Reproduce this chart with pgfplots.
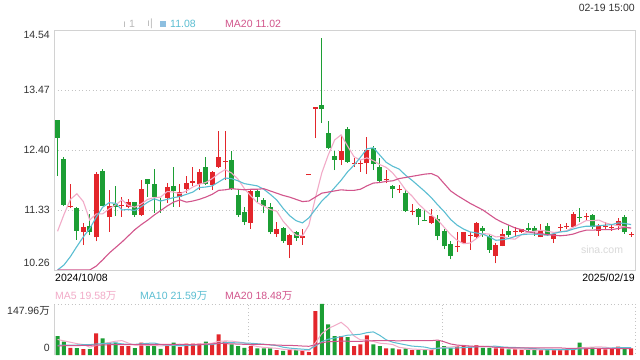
\documentclass[border=0pt]{standalone}
\usepackage{pgfplots}
\pgfplotsset{compat=1.18}
\usepackage{pgfplotstable}
\usepackage{fontspec}
\setmainfont{Liberation Sans}
\newfontfamily\cjk{Noto Sans CJK SC}

\definecolor{cRed}{HTML}{E3262B}
\definecolor{cGreen}{HTML}{1C9E34}
\definecolor{cMA5}{HTML}{F2ABC8}
\definecolor{cMA10}{HTML}{5BBED2}
\definecolor{cMA20}{HTML}{D2558C}
\definecolor{cGrid}{HTML}{C4C4C4}
\definecolor{cFrame}{HTML}{D2D2D2}
\definecolor{cText}{HTML}{333333}
\definecolor{cIcon}{HTML}{8DBFE0}
\newcommand\lbl{\fontsize{10.5bp}{12bp}\selectfont}
\pgfplotsset{candle/.style={draw=none, mark=none, mark size=0pt,
  mark options={draw=none, fill=none},
  error bars/.cd, y dir=plus, y explicit, error mark=none}}

% red (up) candles: index open high low close volume(wan)
\pgfplotstableread{
i o h l c v
2 11.39 11.79 11.36 11.41 21
4 10.94 11.09 10.71 11.02 17
6 10.84 12.00 10.77 11.97 63
8 11.20 11.68 10.94 11.40 36
10 11.40 11.57 11.21 11.42 26
11 11.39 11.52 11.36 11.47 26
13 11.24 11.87 11.23 11.70 36
17 11.54 11.82 11.46 11.74 29
19 11.57 11.79 11.39 11.65 23
20 11.70 11.94 11.63 11.81 33
21 11.82 12.10 11.76 11.84 33
22 11.79 12.07 11.69 12.01 33
24 11.78 12.02 11.69 12.00 33
25 12.10 12.73 12.08 12.27 60
26 12.19 12.73 11.87 12.21 39
30 11.10 11.69 11.00 11.66 26
34 10.91 11.12 10.85 10.99 14
36 10.71 10.91 10.47 10.88 14
38 10.83 11.00 10.71 10.87 12
39 11.95 11.97 11.95 11.97 8
40 13.14 13.16 12.61 13.16 127
44 12.22 12.67 12.13 12.38 55
46 12.15 12.25 12.10 12.17 26
47 12.15 12.22 12.01 12.17 31
48 12.16 12.64 11.97 12.40 57
51 11.86 12.04 11.81 11.88 19
53 11.68 11.78 11.64 11.70 16
55 11.30 11.43 11.24 11.32 14
58 11.10 11.34 11.08 11.23 14
62 10.67 10.93 10.58 10.69 26
63 10.74 10.94 10.72 10.93 26
64 10.87 10.94 10.62 10.89 26
65 10.85 11.12 10.82 11.09 29
68 10.51 10.74 10.38 10.71 19
69 10.69 11.00 10.68 10.91 19
71 10.94 11.03 10.85 10.96 16
72 10.93 11.00 10.92 10.99 15
75 10.84 11.08 10.84 10.96 14
77 10.81 10.93 10.74 10.90 16
78 11.01 11.08 10.95 11.03 16
79 11.02 11.09 10.99 11.04 17
80 11.03 11.30 11.02 11.25 20
82 11.20 11.27 11.15 11.22 20
84 10.96 11.08 10.87 11.04 20
85 11.02 11.12 10.97 11.04 16
86 11.01 11.08 10.96 11.03 20
87 11.05 11.18 10.97 11.13 24
89 10.89 10.93 10.85 10.91 19
}\redtab

% green (down) candles
\pgfplotstableread{
i o h l c v
0 12.94 12.94 11.94 12.62 55
1 12.24 12.28 11.40 11.42 39
3 11.37 11.38 10.80 10.96 20
5 11.04 11.26 10.88 10.93 17
7 12.03 12.07 11.40 11.41 48
9 11.44 11.75 11.22 11.38 36
12 11.47 11.48 11.21 11.24 20
14 11.88 11.89 11.57 11.79 31
15 11.79 12.06 11.28 11.57 26
16 11.51 11.54 11.28 11.49 18
18 11.75 12.10 11.39 11.66 36
23 12.09 12.28 11.78 11.79 39
27 12.23 12.38 11.69 11.70 31
28 11.60 11.69 11.21 11.24 26
29 11.29 11.39 11.06 11.12 21
31 11.67 11.70 11.48 11.57 19
32 11.51 11.54 11.27 11.41 19
33 11.38 11.45 10.91 10.93 19
35 11.01 11.03 10.75 10.77 12
37 10.94 10.96 10.78 10.83 14
41 13.20 14.40 12.88 13.13 148
42 12.70 12.91 12.41 12.43 89
43 12.29 12.38 12.04 12.23 55
45 12.77 12.81 12.17 12.19 52
49 12.44 12.47 12.04 12.15 31
50 12.10 12.25 11.81 11.85 26
52 11.76 11.78 11.54 11.70 19
54 11.64 11.70 11.30 11.32 19
56 11.35 11.36 11.07 11.20 14
57 11.15 11.33 11.13 11.13 14
59 11.17 11.24 10.79 10.87 41
60 10.96 10.99 10.63 10.68 26
61 10.72 10.77 10.45 10.51 21
66 11.01 11.04 10.85 10.96 21
67 10.87 10.91 10.57 10.62 21
70 10.96 11.06 10.85 10.88 16
73 11.01 11.09 10.94 10.97 15
74 11.01 11.04 10.87 10.96 15
76 11.04 11.09 10.87 10.88 14
81 11.21 11.36 11.12 11.19 36
83 11.24 11.26 11.00 11.03 22
88 11.21 11.24 10.91 10.93 19
}\greentab

% moving averages: price MA5/10/20, volume MA5/10/20
\pgfplotstableread{
i m5 m10 m20 v5 v10 v20
0 10.95 10.26 10.26 45 28 26
1 11.25 10.35 10.26 41 29 27
2 11.52 10.50 10.26 37 29 27
3 11.62 10.68 10.26 33 29 27
4 11.48 10.85 10.26 30.4 30 28
5 11.15 11.00 10.26 22.8 30 28
6 11.26 11.20 10.33 27.6 32 29
7 11.26 11.38 10.44 33.0 33 29
8 11.35 11.46 10.56 36.2 34 30
9 11.42 11.45 10.66 40.0 35.2 30
10 11.51 11.33 10.76 41.8 32.3 30
11 11.41 11.34 10.87 34.4 31.0 30
12 11.38 11.32 10.98 28.8 30.9 30
13 11.44 11.39 11.07 28.8 32.5 31
14 11.52 11.47 11.15 27.8 33.9 31
15 11.55 11.53 11.24 27.8 34.8 31
16 11.56 11.49 11.32 26.2 30.3 31
17 11.66 11.52 11.40 28.0 28.4 31
18 11.65 11.55 11.47 28.0 28.4 31
19 11.62 11.57 11.51 26.4 27.1 31.2
20 11.67 11.61 11.47 27.8 27.8 30.05
21 11.74 11.65 11.49 30.8 28.5 29.75
22 11.79 11.73 11.52 31.6 29.8 30.35
23 11.82 11.74 11.56 32.2 30.1 31.3
24 11.89 11.76 11.61 34.2 30.3 32.1
25 11.98 11.83 11.68 39.6 33.7 34.25
26 12.05 11.90 11.69 40.8 35.8 33.05
27 11.99 11.89 11.71 40.4 36.0 32.2
28 11.88 11.85 11.70 37.8 35.0 31.7
29 11.71 11.80 11.69 35.4 34.8 30.95
30 11.58 11.78 11.70 28.6 34.1 30.95
31 11.46 11.76 11.70 24.6 32.7 30.6
32 11.40 11.70 11.71 22.2 31.3 30.55
33 11.34 11.61 11.67 20.8 29.3 29.7
34 11.31 11.51 11.63 19.4 27.4 28.85
35 11.13 11.36 11.59 16.6 22.6 28.15
36 11.00 11.23 11.56 15.6 20.1 27.95
37 10.88 11.14 11.52 14.6 18.4 27.2
38 10.87 11.10 11.48 13.2 17.0 26.0
39 11.06 11.19 11.49 12.0 15.7 25.25
40 11.54 11.34 11.56 35.0 25.8 29.95
41 11.99 11.49 11.63 61.8 38.7 35.7
42 12.31 11.60 11.65 76.8 45.7 38.5
43 12.58 11.73 11.67 85.4 49.3 39.3
44 12.67 11.86 11.69 94.8 53.4 40.4
45 12.47 12.01 11.68 79.8 57.4 40.0
46 12.28 12.13 11.68 55.4 58.6 39.35
47 12.22 12.27 11.70 43.8 60.3 39.35
48 12.26 12.42 11.76 44.2 64.8 40.9
49 12.21 12.44 11.81 39.4 67.1 41.4
50 12.14 12.31 11.82 34.2 57.0 41.4
51 12.09 12.18 11.84 32.8 44.1 41.4
52 11.99 12.11 11.85 30.4 37.1 41.4
53 11.85 12.06 11.89 22.2 33.2 41.25
54 11.69 11.95 11.91 19.8 29.6 41.5
55 11.58 11.86 11.93 17.4 25.8 41.6
56 11.44 11.76 11.95 16.4 24.6 41.6
57 11.33 11.66 11.97 15.4 22.9 41.6
58 11.24 11.55 11.98 15.0 18.6 41.7
59 11.15 11.42 11.93 19.4 19.6 43.35
60 11.02 11.30 11.80 21.8 19.6 38.3
61 10.89 11.16 11.67 23.2 19.8 31.95
62 10.79 11.06 11.59 25.6 20.5 28.8
63 10.73 10.99 11.52 28.0 21.5 27.35
64 10.74 10.94 11.45 25.0 22.2 25.9
65 10.82 10.92 11.39 25.6 23.7 24.75
66 10.91 10.90 11.33 25.6 24.4 24.5
67 10.90 10.85 11.25 24.6 25.1 24.0
68 10.85 10.79 11.17 23.2 25.6 22.1
69 10.86 10.80 11.11 21.8 23.4 21.5
70 10.82 10.82 11.06 19.2 22.4 21.0
71 10.81 10.86 11.01 18.2 21.9 20.85
72 10.89 10.89 10.98 17.0 20.8 20.65
73 10.94 10.90 10.94 16.2 19.7 20.6
74 10.95 10.90 10.92 15.4 18.6 20.4
75 10.97 10.89 10.91 15.0 17.1 20.4
76 10.95 10.88 10.89 14.6 16.4 20.4
77 10.93 10.91 10.88 14.8 15.9 20.5
78 10.94 10.94 10.87 15.0 15.6 20.6
79 10.96 10.95 10.88 15.4 15.4 19.4
80 11.02 10.99 10.90 16.6 15.8 19.1
81 11.08 11.02 10.94 21.0 17.8 19.85
82 11.14 11.04 10.97 21.8 18.3 19.55
83 11.14 11.04 10.97 23.0 19.0 19.35
84 11.15 11.05 10.98 23.6 19.5 19.05
85 11.10 11.06 10.98 22.8 19.7 18.4
86 11.07 11.07 10.98 19.6 20.3 18.35
87 11.05 11.10 11.00 20.4 21.1 18.5
88 11.03 11.09 11.02 19.8 21.4 18.5
89 11.00 11.07 11.01 19.6 21.6 18.5
}\matab

\begin{document}
\begin{tikzpicture}
\useasboundingbox (0,0) rectangle (640bp,360bp);
\fill[white] (0,0) rectangle (640bp,360bp);

% ---------------- price panel ----------------
\begin{axis}[
  at={(54bp,90bp)}, anchor=south west,
  scale only axis, width=581bp, height=240bp,
  xmin=-0.55, xmax=89.6, ymin=10.26, ymax=14.54,
  xtick=\empty,
  ytick={10.26,11.33,12.40,13.47,14.54},
  yticklabels={{\raisebox{7bp}[\height][\depth]{10.26}},11.33,12.40,13.47,{\raisebox{-5bp}[\height][\depth]{14.54}}},
  yticklabel style={font=\lbl, text=cText, inner sep=0pt, xshift=-4bp},
  major tick length=0pt,
  ymajorgrids, grid style={cGrid, dash pattern=on 1bp off 2.5bp},
  axis line style={cFrame, line width=0.8bp},
]
% wicks
\addplot[candle, error bar style={cRed, line width=1bp}]
  table[x=i, y=l, y error plus expr=\thisrow{h}-\thisrow{l}] {\redtab};
\addplot[candle, error bar style={cGreen, line width=1bp}]
  table[x=i, y=l, y error plus expr=\thisrow{h}-\thisrow{l}] {\greentab};
% bodies
\addplot[candle, error bar style={cRed, line width=5bp}]
  table[x=i, y=o, y error plus expr=\thisrow{c}-\thisrow{o}] {\redtab};
\addplot[candle, error bar style={cGreen, line width=5bp}]
  table[x=i, y=c, y error plus expr=\thisrow{o}-\thisrow{c}] {\greentab};
% moving averages
\addplot[cMA5, line width=1.1bp] table[x=i, y=m5] {\matab};
\addplot[cMA10, line width=1.1bp] table[x=i, y=m10] {\matab};
\addplot[cMA20, line width=1.1bp] table[x=i, y=m20] {\matab};
\end{axis}

% ---------------- volume panel ----------------
\begin{axis}[
  at={(54bp,5bp)}, anchor=south west,
  scale only axis, width=581bp, height=51bp,
  xmin=-0.55, xmax=89.6, ymin=0, ymax=147.96,
  xtick={29.56,59.66}, xticklabels={},
  xmajorgrids, grid style={cGrid, dash pattern=on 1bp off 2.5bp},
  ytick={0,147.96},
  yticklabels={{\raisebox{7bp}[\height][\depth]{0}},{\raisebox{-7bp}[\height][\depth]{147.96{\cjk 万}}}},
  yticklabel style={font=\lbl, text=cText, inner sep=0pt, xshift=-4bp},
  major tick length=0pt,
  axis line style={draw=none},
  clip=false,
]
\draw[cFrame, line width=0.8bp] (rel axis cs:0,0) -- (rel axis cs:0,1);
\draw[cGrid, dash pattern=on 1bp off 2.5bp] (rel axis cs:0,1) -- (rel axis cs:1,1) -- (rel axis cs:1,0);
\addplot[ybar, bar width=4bp, bar shift=0pt, fill=cRed, draw=none] table[x=i, y=v] {\redtab};
\addplot[ybar, bar width=4bp, bar shift=0pt, fill=cGreen, draw=none] table[x=i, y=v] {\greentab};
\addplot[cMA5, line width=1bp] table[x=i, y=v5] {\matab};
\addplot[cMA10, line width=1bp] table[x=i, y=v10] {\matab};
\addplot[cMA20, line width=1bp] table[x=i, y=v20] {\matab};
\end{axis}

% ---------------- texts ----------------
\node[anchor=east, inner sep=0pt, font=\lbl, text=cText] at (635bp,352bp) {02-19 15:00};
\node[anchor=west, inner sep=0pt, font=\lbl, text=gray!55] at (123bp,336bp) {ı 1};
\node[anchor=west, inner sep=0pt, font=\lbl, text=gray!55] at (147bp,336bp) {ı|};
\fill[cIcon] (159.5bp,333bp) rectangle (165.5bp,339bp);
\node[anchor=west, inner sep=0pt, font=\lbl, text=cMA10] at (170bp,336bp) {11.08};
\node[anchor=west, inner sep=0pt, font=\lbl, text=cMA20] at (225bp,336bp) {MA20 11.02};
\node[anchor=west, inner sep=0pt, font=\lbl, text=black] at (55bp,82bp) {2024/10/08};
\node[anchor=east, inner sep=0pt, font=\lbl, text=black] at (635bp,82bp) {2025/02/19};
\node[anchor=center, inner sep=0pt, font=\lbl, text=gray!30] at (602bp,110bp) {sina.com};
\node[anchor=west, inner sep=0pt, font=\lbl, text=cMA5] at (55bp,64bp) {MA5 19.58{\cjk 万}};
\node[anchor=west, inner sep=0pt, font=\lbl, text=cMA10] at (140bp,64bp) {MA10 21.59{\cjk 万}};
\node[anchor=west, inner sep=0pt, font=\lbl, text=cMA20] at (225bp,64bp) {MA20 18.48{\cjk 万}};
\end{tikzpicture}
\end{document}
